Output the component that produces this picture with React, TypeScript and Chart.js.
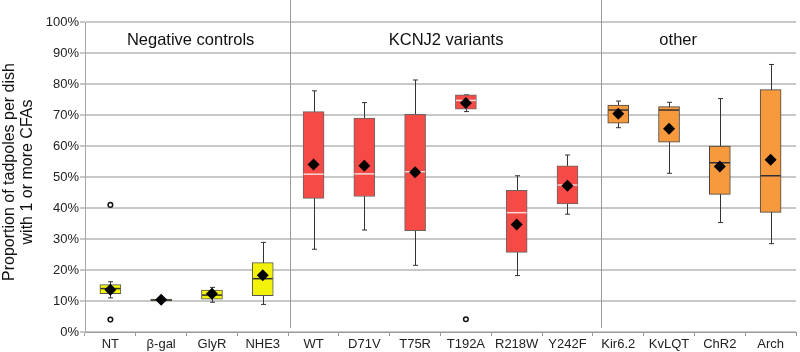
import { useEffect, useRef } from 'react';
import { Chart, registerables } from 'chart.js';
Chart.register(...registerables);

const categories = ['NT', 'β-gal', 'GlyR', 'NHE3', 'WT', 'D71V', 'T75R', 'T192A', 'R218W', 'Y242F', 'Kir6.2', 'KvLQT', 'ChR2', 'Arch'];
const groupOf = [0, 0, 0, 0, 1, 1, 1, 1, 1, 1, 2, 2, 2, 2];
const whiskerLow = [11.0, 9.9, 9.6, 8.9, 26.7, 32.9, 21.5, 71.1, 18.2, 38.0, 65.9, 51.2, 35.3, 28.5];
const q1 = [12.4, 10.0, 10.6, 11.7, 43.1, 43.7, 32.7, 71.9, 25.7, 41.3, 67.4, 61.2, 44.4, 38.6];
const median = [14.0, 10.3, 11.9, 17.2, 50.9, 51.0, 51.7, 74.7, 38.5, 47.4, 71.6, 71.6, 54.6, 50.4];
const q3 = [15.3, 10.6, 13.5, 22.4, 71.1, 69.0, 70.2, 76.5, 45.7, 53.6, 73.2, 72.7, 60.0, 78.2];
const whiskerHigh = [16.2, 10.7, 14.4, 28.9, 77.8, 74.0, 81.3, 76.5, 50.4, 57.1, 74.5, 74.1, 75.3, 86.3];
const means = [13.6, 10.4, 12.3, 18.3, 54.0, 53.6, 51.5, 73.9, 34.7, 47.2, 70.4, 65.6, 53.4, 55.6];
const outlierCategories = ['NT', 'NT', 'T192A'];
const outlierValues = [41.0, 4.0, 4.1];
const groupLabels = ['Negative controls', 'KCNJ2 variants', 'other'];
const groupLabelAt = [1.58, 6.61, 11.18];
const separatorsAt = [3.54, 9.67];
const yTitle = ['Proportion of tadpoles per dish', 'with 1 or more CFAs'];

const groupFill = ['#f2f20a', '#f54a45', '#f79a3e'];
const groupEdge = ['#555555', '#666666', '#444444'];
const groupMedian = ['#333333', '#f8d8d8', '#333333'];

const FONT = "'Liberation Sans', Arial, Helvetica, sans-serif";

const boxPlugin = {
  id: 'boxExtras',
  beforeDatasetsDraw(chart: any) {
    const { ctx, chartArea } = chart;
    const xs = chart.scales.x;
    const ys = chart.scales.y;
    ctx.save();
    ctx.strokeStyle = '#9a9a9a';
    ctx.lineWidth = 1;
    separatorsAt.forEach((s) => {
      const x = Math.round(xs.getPixelForValue(s)) + 0.5;
      ctx.beginPath();
      ctx.moveTo(x, 0);
      ctx.lineTo(x, chartArea.bottom - 4);
      ctx.stroke();
    });
    ctx.strokeStyle = '#333333';
    ctx.lineWidth = 1;
    categories.forEach((_, i) => {
      const x = Math.round(xs.getPixelForValue(i)) + 0.5;
      const yl = ys.getPixelForValue(whiskerLow[i]);
      const yh = ys.getPixelForValue(whiskerHigh[i]);
      ctx.beginPath();
      ctx.moveTo(x, yl);
      ctx.lineTo(x, yh);
      ctx.moveTo(x - 2.5, yl);
      ctx.lineTo(x + 2.5, yl);
      ctx.moveTo(x - 2.5, yh);
      ctx.lineTo(x + 2.5, yh);
      ctx.stroke();
    });
    ctx.restore();
  },
  afterDatasetDraw(chart: any, args: any) {
    if (args.index !== 0) return;
    const { ctx } = chart;
    const xs = chart.scales.x;
    const ys = chart.scales.y;
    ctx.save();
    ctx.lineWidth = 1.5;
    categories.forEach((_, i) => {
      const x = xs.getPixelForValue(i);
      const y = ys.getPixelForValue(median[i]);
      ctx.strokeStyle = groupMedian[groupOf[i]];
      ctx.beginPath();
      ctx.moveTo(x - 10, y);
      ctx.lineTo(x + 10, y);
      ctx.stroke();
    });
    ctx.restore();
  },
  afterDraw(chart: any) {
    const { ctx, chartArea } = chart;
    const xs = chart.scales.x;
    ctx.save();
    ctx.fillStyle = '#111111';
    ctx.textAlign = 'center';
    ctx.textBaseline = 'middle';
    ctx.font = `16.5px ${FONT}`;
    groupLabels.forEach((t, i) => {
      ctx.fillText(t, xs.getPixelForValue(groupLabelAt[i]), chartArea.top + 18);
    });
    const cy = (chartArea.top + chartArea.bottom) / 2 - 5;
    ctx.font = `16px ${FONT}`;
    ctx.translate(0, cy);
    ctx.rotate(-Math.PI / 2);
    ctx.fillText(yTitle[0], 0, 10);
    ctx.fillText(yTitle[1], 0, 28);
    ctx.restore();
  },
};

export default function App() {
  const ref = useRef<HTMLCanvasElement>(null);
  useEffect(() => {
    const canvas = ref.current!;
    const chart = new Chart(canvas, {
      type: 'bar',
      data: {
        labels: categories,
        datasets: [
          {
            type: 'bar',
            data: categories.map((_, i) => [q1[i], q3[i]]) as any,
            backgroundColor: categories.map((_, i) => groupFill[groupOf[i]]),
            borderColor: categories.map((_, i) => groupEdge[groupOf[i]]),
            borderWidth: 1,
            borderSkipped: false,
            barThickness: 21,
            grouped: false,
            order: 3,
          } as any,
          {
            type: 'line',
            data: means,
            showLine: false,
            pointStyle: 'rectRot',
            pointRadius: 6,
            pointBackgroundColor: '#000000',
            pointBorderColor: '#000000',
            pointBorderWidth: 0,
            order: 1,
          } as any,
          {
            type: 'line',
            data: outlierCategories.map((c, i) => ({ x: c, y: outlierValues[i] })),
            showLine: false,
            pointStyle: 'circle',
            pointRadius: 2.3,
            pointBackgroundColor: '#ffffff',
            pointBorderColor: '#111111',
            pointBorderWidth: 1.5,
            order: 2,
          } as any,
        ],
      },
      options: {
        responsive: false,
        animation: false,
        devicePixelRatio: 1,
        layout: { padding: { top: 22, right: 0, left: 0, bottom: 0 } },
        plugins: {
          legend: { display: false },
          tooltip: { enabled: false },
          title: { display: false },
        },
        scales: {
          x: {
            offset: true,
            grid: {
              display: true,
              offset: true,
              drawOnChartArea: false,
              drawTicks: true,
              tickLength: 4,
              color: '#9a9a9a',
            },
            border: { display: true, color: '#9a9a9a', width: 1 },
            ticks: { color: '#222222', font: { family: FONT, size: 13 }, padding: 1, maxRotation: 0, autoSkip: false },
            afterFit(scale: any) { scale.height = 20; },
          },
          y: {
            min: 0,
            max: 100,
            ticks: {
              stepSize: 10,
              color: '#222222',
              font: { family: FONT, size: 13 },
              padding: 1,
              callback: (v: any) => `${v}%`,
            },
            grid: { color: '#c8c8c8', lineWidth: 2, tickLength: 5 },
            border: { display: true, color: '#a8a8a8', width: 1 },
            afterFit(scale: any) { scale.width = 85; },
          },
        },
      },
      plugins: [boxPlugin],
    });
    return () => chart.destroy();
  }, []);
  return (
    <div style={{ position: 'fixed', left: 0, top: 0, width: 800, height: 352, overflow: 'hidden', background: '#ffffff' }}>
      <canvas ref={ref} width={802} height={352} style={{ display: 'block' }} />
    </div>
  );
}
